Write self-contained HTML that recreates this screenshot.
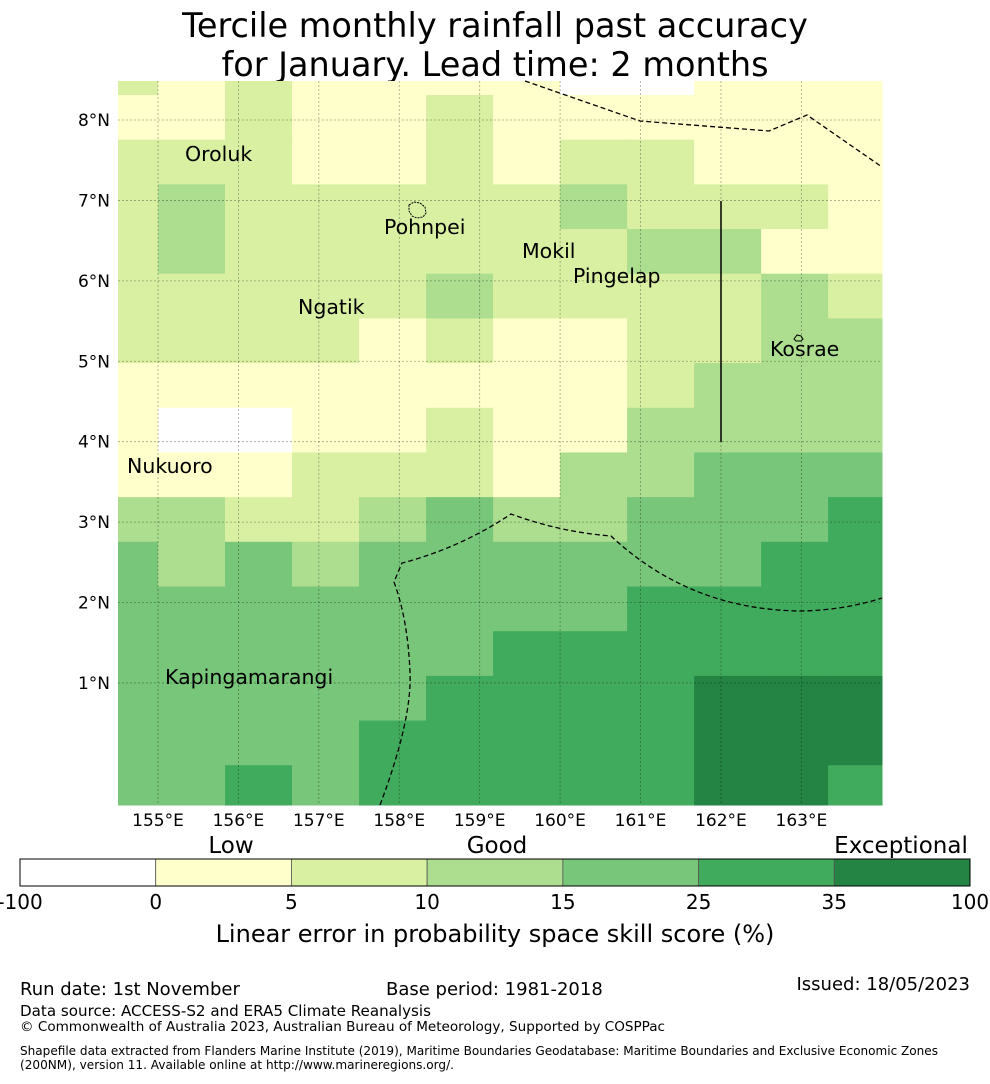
<!DOCTYPE html>
<html><head><meta charset="utf-8"><style>
html,body{margin:0;padding:0;background:#fff;}
body{width:990px;height:1080px;overflow:hidden;font-family:"DejaVu Sans","Liberation Sans",sans-serif;}
svg text{font-family:"DejaVu Sans","Liberation Sans",sans-serif;}
</style></head><body>
<svg id="chart" width="990" height="1080" xmlns="http://www.w3.org/2000/svg">
<text x="495" y="37" font-size="33.5" text-anchor="middle">Tercile monthly rainfall past accuracy</text>
<text x="495" y="76" font-size="33.5" text-anchor="middle">for January. Lead time: 2 months</text>
<g id="cells"></g>
<g id="grid"></g>
<g id="overlay">
<line x1="721" y1="201" x2="721" y2="442" stroke="#000" stroke-width="1.5"/>
<polyline points="525,81 640,121 769,131 807,115 882,167" fill="none" stroke="#000" stroke-width="1.3" stroke-dasharray="5,3"/>
<path d="M380,805 Q412,720 410,673 Q408,620 394,582 L402,563 Q460,548 511,514 Q560,532 611,536 Q690,610 801,611 Q845,610 882,598" fill="none" stroke="#000" stroke-width="1.3" stroke-dasharray="5,3"/>
<path d="M409,205 l5,-3 l6,1 l5,4 l1,6 l-3,4 l-6,1 l-5,-2 l-3,-5z" fill="none" stroke="#000" stroke-width="1" stroke-dasharray="2,1"/>
<path d="M794,339 l3,-4 l4,1 l2,3 l-2,2 l-5,0z" fill="none" stroke="#000" stroke-width="1"/>
</g>
<g font-size="20.5" fill="#000">
<text x="185" y="161">Oroluk</text>
<text x="384" y="234">Pohnpei</text>
<text x="522" y="258">Mokil</text>
<text x="573" y="283">Pingelap</text>
<text x="298" y="314">Ngatik</text>
<text x="770" y="356">Kosrae</text>
<text x="127" y="473">Nukuoro</text>
<text x="165" y="684">Kapingamarangi</text>
</g>
<g id="axes"></g>
<g id="cbar"></g>
<text x="231" y="853" font-size="23" text-anchor="middle">Low</text>
<text x="497" y="853" font-size="23" text-anchor="middle">Good</text>
<text x="901" y="853" font-size="23" text-anchor="middle">Exceptional</text>
<text x="495" y="942" font-size="24" text-anchor="middle">Linear error in probability space skill score (%)</text>
<text x="20" y="995" font-size="18">Run date: 1st November</text>
<text x="386" y="995" font-size="18">Base period: 1981-2018</text>
<text x="970" y="990" font-size="18" text-anchor="end">Issued: 18/05/2023</text>
<text x="20" y="1016" font-size="14.7" textLength="411" lengthAdjust="spacingAndGlyphs">Data source: ACCESS-S2 and ERA5 Climate Reanalysis</text>
<text x="20" y="1031" font-size="13" textLength="645" lengthAdjust="spacingAndGlyphs">© Commonwealth of Australia 2023, Australian Bureau of Meteorology, Supported by COSPPac</text>
<text x="20" y="1055" font-size="12" textLength="918" lengthAdjust="spacingAndGlyphs">Shapefile data extracted from Flanders Marine Institute (2019), Maritime Boundaries Geodatabase: Maritime Boundaries and Exclusive Economic Zones</text>
<text x="20" y="1069" font-size="12" textLength="434" lengthAdjust="spacingAndGlyphs">(200NM), version 11. Available online at http://www.marineregions.org/.</text>
</svg>
<script>
const binEdges=[-100,0,5,10,15,25,35,100];
const binColors=["#ffffff","#ffffcc","#d9f0a3","#addd8e","#78c679","#41ab5d","#238443"];
const lonTicks=[155,156,157,158,159,160,161,162,163];
const latTicks=[1,2,3,4,5,6,7,8];
// skill scores (%), rows from north (top) to south, columns west to east
const skillRows=[
[7,2,7,2,2,2,2,-5,-5,2,2,2],
[2,2,7,2,2,7,2,2,2,2,2,2],
[7,7,7,2,2,7,2,7,7,2,2,2],
[7,12,7,7,7,7,7,12,7,7,7,2],
[7,12,7,7,7,7,7,7,12,12,2,2],
[7,7,7,7,7,12,7,7,7,7,12,7],
[7,7,7,7,2,7,2,2,7,7,12,12],
[2,2,2,2,2,2,2,2,7,12,12,12],
[2,-5,-5,2,2,7,2,2,12,12,12,12],
[2,2,2,7,7,7,2,12,12,20,20,20],
[12,12,7,7,12,20,12,12,20,20,20,30],
[20,12,20,12,20,20,20,20,20,20,30,30],
[20,20,20,20,20,20,20,20,30,30,30,30],
[20,20,20,20,20,20,30,30,30,30,30,30],
[20,20,20,20,20,30,30,30,30,50,50,50],
[20,20,20,20,30,30,30,30,30,50,50,50],
[20,20,30,20,30,30,30,30,30,50,50,30]];
const NS="http://www.w3.org/2000/svg";
const X0=118,X1=882,Y0=81,Y1=805;
function xLon(l){return 158+(l-155)*80.42;}
function yLat(l){return 120+(8-l)*80.42;}
const lonW=155-(158-X0)/80.42, lonE=lonW+(X1-X0)/80.42;
const latN=8+(120-Y0)/80.42;
const colDeg=0.8333,rowDeg=0.5556;
function colorFor(v){for(let i=0;i<binColors.length;i++){if(v<binEdges[i+1])return binColors[i];}return binColors[binColors.length-1];}
const cells=document.getElementById('cells');
const colEdgeLon=[lonW];for(let c=1;c<=12;c++)colEdgeLon.push(155+(c-1)*colDeg);
const rowEdgeLat=[latN];for(let r=1;r<=17;r++)rowEdgeLat.push(8+(120-95)/80.42-(r-1)*rowDeg);
function el(t,a){const e=document.createElementNS(NS,t);for(const k in a)e.setAttribute(k,a[k]);return e;}
skillRows.forEach((row,r)=>{row.forEach((v,c)=>{
  const x1=Math.max(X0,xLon(colEdgeLon[c])),x2=Math.min(X1,xLon(Math.min(colEdgeLon[c+1],lonE)));
  const y1=Math.max(Y0,yLat(rowEdgeLat[r])),y2=Math.min(Y1,r===16?Y1:yLat(rowEdgeLat[r+1]));
  const rc=el('rect',{x:x1,y:y1,width:Math.max(0,x2-x1+0.5),height:Math.max(0,y2-y1+0.5),fill:colorFor(v)});
  
  
  cells.appendChild(rc);
});});
const grid=document.getElementById('grid'),axes=document.getElementById('axes');
lonTicks.forEach(l=>{
  const x=xLon(l);
  const g=el('line',{x1:x,y1:Y0,x2:x,y2:Y1,stroke:'#000','stroke-opacity':0.35,'stroke-width':0.8,'stroke-dasharray':'2,2'});
  
  
  grid.appendChild(g);
  const t=el('text',{x:x,y:826,'font-size':17,'text-anchor':'middle'});t.textContent=l+'°E';
  
  
  axes.appendChild(t);
});
latTicks.forEach(l=>{
  const y=yLat(l);
  const g=el('line',{x1:X0,y1:y,x2:X1,y2:y,stroke:'#000','stroke-opacity':0.35,'stroke-width':0.8,'stroke-dasharray':'2,2'});
  
  
  grid.appendChild(g);
  const t=el('text',{x:110,y:y+6,'font-size':17,'text-anchor':'end'});t.textContent=l+'°N';
  
  
  axes.appendChild(t);
});
const cb=document.getElementById('cbar');const cbX=20,cbW=950,segW=cbW/binColors.length;
binColors.forEach((c,i)=>{
  const r=el('rect',{x:cbX+i*segW,y:859,width:segW,height:27,fill:c,stroke:'#555','stroke-width':0.8});
  
  
  cb.appendChild(r);
});
const fr=el('rect',{x:cbX,y:859,width:cbW,height:27,fill:'none',stroke:'#000','stroke-width':1});


cb.appendChild(fr);
binEdges.forEach((v,i)=>{
  const x=cbX+i*segW;
  const t=el('text',{x:x,y:909,'font-size':20,'text-anchor':'middle'});t.textContent=v;
  
  
  cb.appendChild(t);
});
</script>
</body></html>
